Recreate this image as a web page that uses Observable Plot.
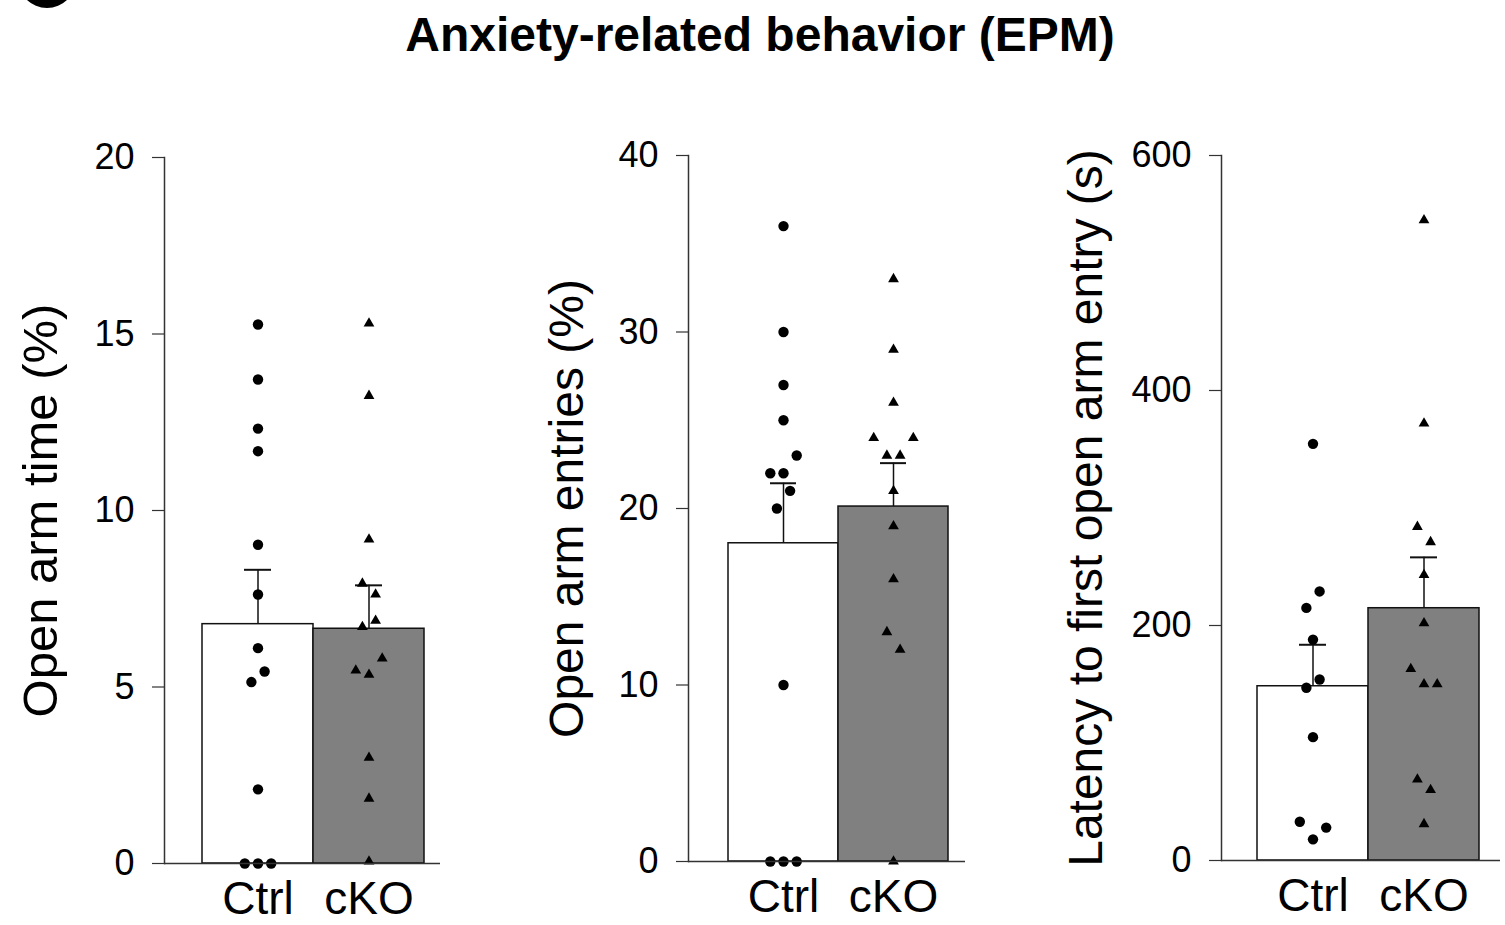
<!DOCTYPE html>
<html>
<head>
<meta charset="utf-8">
<script src="https://cdn.jsdelivr.net/npm/d3@7"></script>
<script src="https://cdn.jsdelivr.net/npm/@observablehq/plot@0.6"></script>
<style>
  html, body { margin: 0; padding: 0; background: #fff; overflow: hidden; }
  #figure { position: relative; width: 1505px; height: 925px; font-family: "Liberation Sans", Arial, Helvetica, sans-serif; }
  #badge { position: absolute; left: 18px; top: -50px; width: 58px; height: 58px; border-radius: 50%; background: #000; }
  #title { position: absolute; left: 0; width: 1520px; top: 11px; line-height: 48px; text-align: center; font-size: 48px; font-weight: bold; color: #000; }
  .panel { position: absolute; top: 0; }
  .panel svg { overflow: visible; }
</style>
</head>
<body>
<div id="figure">
  <div id="badge"></div>
  <div id="title">Anxiety-related behavior (EPM)</div>
  <div class="panel" id="p1"></div>
  <div class="panel" id="p2"></div>
  <div class="panel" id="p3"></div>
</div>
<script>
// Groups
const groups = ["Ctrl", "cKO"];

// Open arm time (%): individual animals, with their horizontal slot in the scatter
const timeCtrl      = [15.27, 13.71, 12.32, 11.68, 9.03, 7.62, 6.10, 5.44, 5.14, 2.10, 0, 0, 0];
const timeCtrlSlot  = [0, 0, 0, 0, 0, 0, 0, 1, -1, 0, -2, 0, 2];
const timeCKO       = [15.30, 13.25, 9.18, 7.93, 7.62, 6.88, 6.70, 5.81, 5.47, 5.35, 3.00, 1.84, 0.06];
const timeCKOSlot   = [0, 0, 0, -1, 1, 1, -1, 2, -2, 0, 0, 0, 0];
const timeMean      = [6.78, 6.65];
const timeSem       = [1.54, 1.23];
const timeTicks     = [0, 5, 10, 15, 20];

// Open arm entries (%)
const entCtrl       = [36, 30, 27, 25, 23, 22, 22, 21, 20, 10, 0, 0, 0];
const entCtrlSlot   = [0, 0, 0, 0, 2, -2, 0, 1, -1, 0, -2, 0, 2];
const entCKO        = [33, 29, 26, 24, 24, 23, 23, 21, 19, 16, 13, 12, 0];
const entCKOSlot    = [0, 0, 0, -3, 3, -1, 1, 0, 0, 0, -1, 1, 0];
const entMean       = [18.03, 20.11];
const entSem        = [3.40, 2.46];
const entTicks      = [0, 10, 20, 30, 40];

// Latency to first open arm entry (s)
const latCtrl       = [354.6, 229, 215, 188, 154, 147, 105, 33, 28, 18];
const latCtrlSlot   = [0, 1, -1, 0, 1, -1, 0, -2, 2, 0];
const latCKO        = [545, 372, 284, 271, 243, 202, 163, 150, 150, 69, 60, 31];
const latCKOSlot    = [0, 0, -1, 1, 0, 0, -2, 0, 2, -1, 1, 0];
const latMean       = [148.3, 214.7];
const latSem        = [35.3, 43.3];
const latTicks      = [0, 200, 400, 600];

const barFill = {Ctrl: "#ffffff", cKO: "#808080"};
const axisColor = "#333";
const slotStep = 6.6;

function panel({el, left, width, yMax, ticks, label, labelDx, labelSize, bandRange, ctrl, ctrlSlot, cko, ckoSlot, mean, sem, top, bottom}) {
  const summary = groups.map((g, i) => ({group: g, mean: mean[i], top: mean[i] + sem[i]}));
  const pts = [
    ...ctrl.map((v, i) => ({group: "Ctrl", value: v, slot: ctrlSlot[i]})),
    ...cko.map((v, i) => ({group: "cKO", value: v, slot: ckoSlot[i]}))
  ];
  const slots = Array.from(new Set(pts.map(d => d.slot)));
  // one dot mark per horizontal slot so each can carry its own pixel offset
  const dotMarks = slots.flatMap(s => [
    Plot.dot(pts.filter(d => d.slot === s && d.group === "Ctrl"), {
      x: "group", y: "value", dx: s * slotStep, r: 5.2, fill: "#000", stroke: "none", symbol: "circle"
    }),
    Plot.dot(pts.filter(d => d.slot === s && d.group === "cKO"), {
      x: "group", y: "value", dx: s * slotStep, r: 4, fill: "#000", stroke: "none", symbol: "triangle"
    })
  ]);

  const chart = Plot.plot({
    width,
    height: 925,
    marginLeft: 164,
    marginRight: width - (bandRange[2]),
    marginTop: top,
    marginBottom: 925 - bottom,
    style: {fontFamily: '"Liberation Sans", Arial, Helvetica, sans-serif', color: "#000", background: "transparent", overflow: "visible"},
    x: {domain: groups, range: [bandRange[0], bandRange[1]], padding: 0, label: null},
    y: {domain: [0, yMax], label: null},
    marks: [
      Plot.barY(summary, {x: "group", y: "mean", fill: d => barFill[d.group], stroke: "#111", strokeWidth: 1.5}),
      Plot.ruleX(summary, {x: "group", y1: "mean", y2: "top", stroke: "#111", strokeWidth: 1.5}),
      Plot.tickY(summary, {x: "group", y: "top", stroke: "#111", strokeWidth: 2, insetLeft: 42, insetRight: 42}),
      ...dotMarks,
      Plot.frame({anchor: "left", stroke: axisColor, strokeWidth: 1.5}),
      Plot.ruleY([0], {stroke: axisColor, strokeWidth: 1.5}),
      Plot.axisY({ticks, tickSize: 12, tickPadding: 18, fontSize: 36, stroke: axisColor, strokeWidth: 1.2, label: null, tickFormat: d => String(d)}),
      Plot.axisX({tickSize: 0, tickPadding: 18, fontSize: 46, label: null}),
      Plot.text([label], {frameAnchor: "left", text: d => d, rotate: -90, dx: labelDx, fontSize: labelSize, textAnchor: "middle", lineAnchor: "middle", fill: "#000"})
    ]
  });
  const host = document.getElementById(el);
  host.style.left = left + "px";
  host.appendChild(chart);
}

panel({el: "p1", left: 0, width: 450, yMax: 20, ticks: timeTicks, label: "Open arm time (%)", labelDx: -123, labelSize: 49,
  bandRange: [202, 424, 440], ctrl: timeCtrl, ctrlSlot: timeCtrlSlot, cko: timeCKO, ckoSlot: timeCKOSlot,
  mean: timeMean, sem: timeSem, top: 157, bottom: 863});

panel({el: "p2", left: 524, width: 451, yMax: 40, ticks: entTicks, label: "Open arm entries (%)", labelDx: -121, labelSize: 48,
  bandRange: [203, 424, 441], ctrl: entCtrl, ctrlSlot: entCtrlSlot, cko: entCKO, ckoSlot: entCKOSlot,
  mean: entMean, sem: entSem, top: 155, bottom: 861});

panel({el: "p3", left: 1057, width: 448, yMax: 600, ticks: latTicks, label: "Latency to first open arm entry (s)", labelDx: -135, labelSize: 48,
  bandRange: [199, 422, 443], ctrl: latCtrl, ctrlSlot: latCtrlSlot, cko: latCKO, ckoSlot: latCKOSlot,
  mean: latMean, sem: latSem, top: 155, bottom: 860});
</script>
</body>
</html>
